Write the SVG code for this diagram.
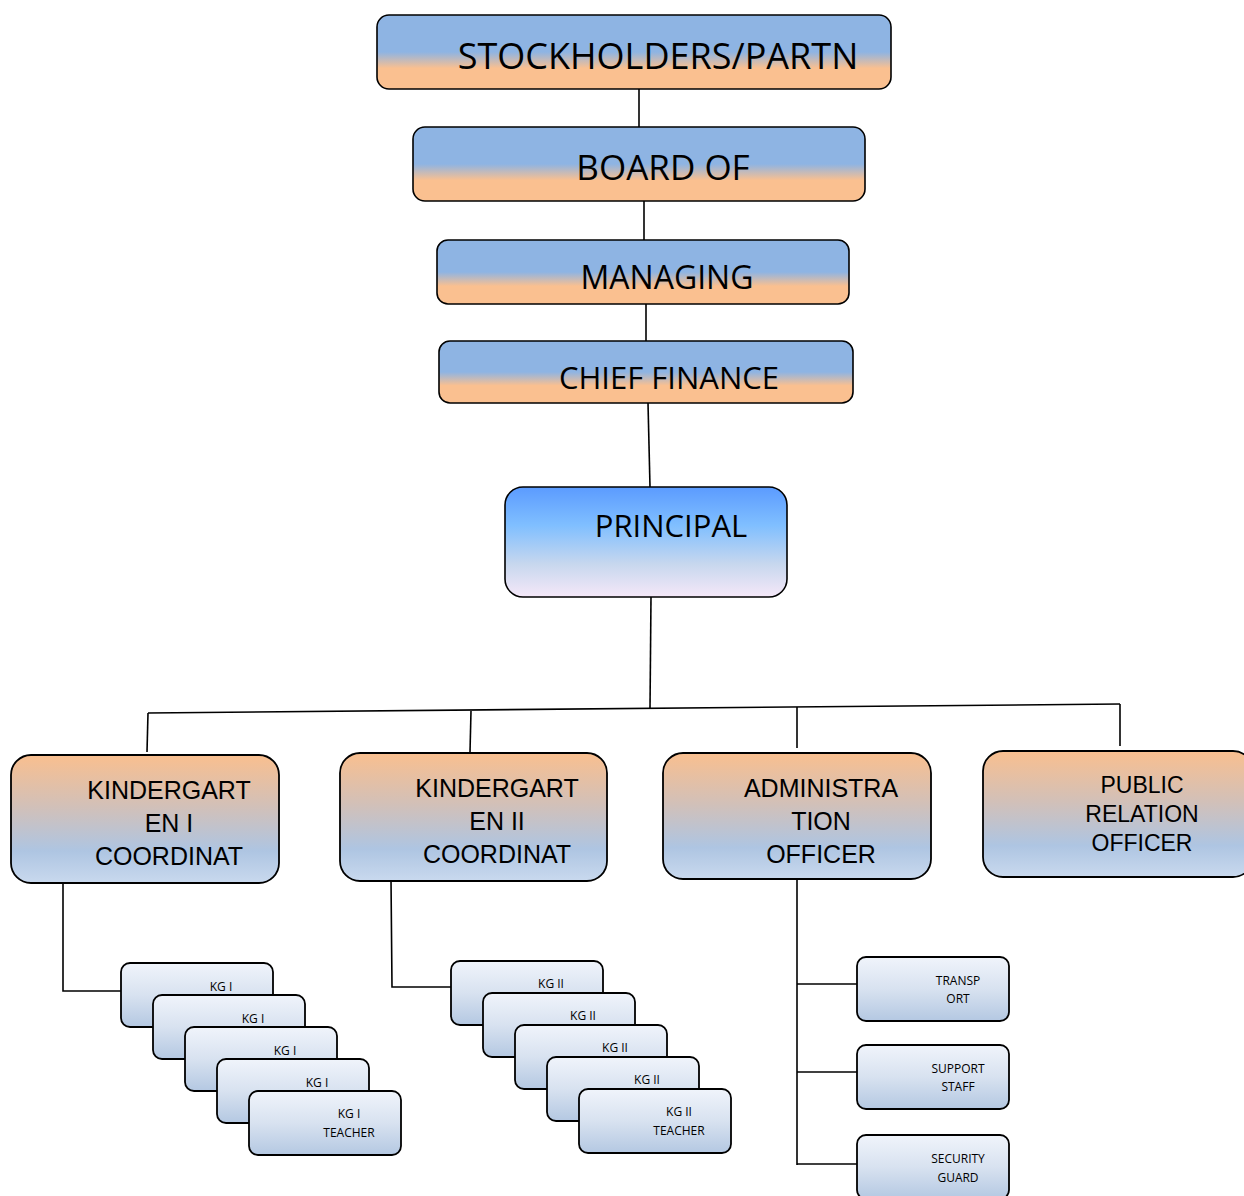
<svg xmlns="http://www.w3.org/2000/svg" width="1244" height="1196" viewBox="0 0 1244 1196">
<style>
.top{stroke:#000;stroke-width:1.6;fill:url(#gTop)}
.mid{stroke:#000;stroke-width:1.8;fill:url(#gMid)}
.sm{stroke:#000;stroke-width:1.8;fill:url(#gSm)}
.pr{stroke:#000;stroke-width:1.6;fill:url(#gPr)}
.t1{font-family:"Open Sans","Noto Sans",sans-serif;fill:#000;text-anchor:middle}
.t2{font-family:"Liberation Sans",sans-serif;fill:#000;text-anchor:middle;font-size:25px}
.t2s{font-family:"Liberation Sans",sans-serif;fill:#000;text-anchor:middle;font-size:23px}
.t3{font-family:"Open Sans","Noto Sans",sans-serif;fill:#000;text-anchor:middle;font-size:12px}
.c{stroke:#000;stroke-width:1.6;fill:none}
</style>
<defs>
<linearGradient id="gTop" x1="0" y1="0" x2="0" y2="1">
<stop offset="0" stop-color="#8eb4e3"/><stop offset="0.5" stop-color="#8eb4e3"/><stop offset="0.72" stop-color="#fac090"/><stop offset="1" stop-color="#fac090"/>
</linearGradient>
<linearGradient id="gPr" x1="0" y1="0" x2="0" y2="1">
<stop offset="0" stop-color="#5b9bff"/><stop offset="0.35" stop-color="#80bfff"/><stop offset="0.7" stop-color="#c7d7ee"/><stop offset="1" stop-color="#f5e8f8"/>
</linearGradient>
<linearGradient id="gMid" x1="0" y1="0" x2="0" y2="1">
<stop offset="0" stop-color="#f9bf8f"/><stop offset="0.4" stop-color="#d2c0b8"/><stop offset="0.75" stop-color="#aec5e2"/><stop offset="1" stop-color="#c9d9ee"/>
</linearGradient>
<linearGradient id="gSm" x1="0" y1="0" x2="0" y2="1">
<stop offset="0" stop-color="#f0f4fb"/><stop offset="0.5" stop-color="#d8e2f0"/><stop offset="1" stop-color="#b4c8e2"/>
</linearGradient>
</defs>
<g id="connectors">
<line class="c" x1="639" y1="89" x2="639" y2="127"/>
<line class="c" x1="644" y1="201" x2="644" y2="240"/>
<line class="c" x1="646" y1="304" x2="646" y2="341"/>
<line class="c" x1="648" y1="403" x2="650" y2="487"/>
<line class="c" x1="651" y1="597" x2="650" y2="708"/>
<line class="c" x1="148" y1="713" x2="1120" y2="704"/>
<line class="c" x1="148" y1="713" x2="147" y2="752"/>
<line class="c" x1="471" y1="711" x2="470" y2="752"/>
<line class="c" x1="797" y1="707" x2="797" y2="748"/>
<line class="c" x1="1120" y1="704" x2="1120" y2="746"/>
<polyline class="c" points="63,883 63,991 121,991"/>
<polyline class="c" points="391,879 392,987 451,987"/>
<line class="c" x1="797" y1="879" x2="797" y2="1165"/>
<line class="c" x1="797" y1="984" x2="857" y2="984"/>
<line class="c" x1="797" y1="1072" x2="857" y2="1072"/>
<line class="c" x1="797" y1="1164" x2="857" y2="1164"/>
</g>
<g id="stockholders"><rect class="top" x="377" y="15" width="514" height="74" rx="12"/><text class="t1" x="658" y="69" font-size="36">STOCKHOLDERS/PARTN</text></g>
<g id="board"><rect class="top" x="413" y="127" width="452" height="74" rx="12"/><text class="t1" x="663" y="180" font-size="35">BOARD OF</text></g>
<g id="managing"><rect class="top" x="437" y="240" width="412" height="64" rx="11"/><text class="t1" x="667" y="289" font-size="32">MANAGING</text></g>
<g id="cfo"><rect class="top" x="439" y="341" width="414" height="62" rx="11"/><text class="t1" x="669" y="389" font-size="31">CHIEF FINANCE</text></g>
<g id="principal"><rect class="pr" x="505" y="487" width="282" height="110" rx="18"/><text class="t1" x="671" y="537" font-size="31">PRINCIPAL</text></g>
<g id="kg1coord"><rect class="mid" x="11" y="755" width="268" height="128" rx="20"/><text class="t2" x="169" y="799">KINDERGART</text><text class="t2" x="169" y="832">EN I</text><text class="t2" x="169" y="865">COORDINAT</text></g>
<g id="kg2coord"><rect class="mid" x="340" y="753" width="267" height="128" rx="20"/><text class="t2" x="497" y="797">KINDERGART</text><text class="t2" x="497" y="830">EN II</text><text class="t2" x="497" y="863">COORDINAT</text></g>
<g id="admin"><rect class="mid" x="663" y="753" width="268" height="126" rx="20"/><text class="t2" x="821" y="797">ADMINISTRA</text><text class="t2" x="821" y="830">TION</text><text class="t2" x="821" y="863">OFFICER</text></g>
<g id="pro"><rect class="mid" x="983" y="751" width="270" height="126" rx="20"/><text class="t2s" x="1142" y="793">PUBLIC</text><text class="t2s" x="1142" y="822">RELATION</text><text class="t2s" x="1142" y="851">OFFICER</text></g>
<g id="kg1a"><rect class="sm" x="121" y="963" width="152" height="64" rx="9"/><text class="t3" x="221" y="991">KG I</text></g>
<g id="kg1b"><rect class="sm" x="153" y="995" width="152" height="64" rx="9"/><text class="t3" x="253" y="1023">KG I</text></g>
<g id="kg1c"><rect class="sm" x="185" y="1027" width="152" height="64" rx="9"/><text class="t3" x="285" y="1055">KG I</text></g>
<g id="kg1d"><rect class="sm" x="217" y="1059" width="152" height="64" rx="9"/><text class="t3" x="317" y="1087">KG I</text></g>
<g id="kg1e"><rect class="sm" x="249" y="1091" width="152" height="64" rx="9"/><text class="t3" x="349" y="1118">KG I</text><text class="t3" x="349" y="1137">TEACHER</text></g>
<g id="kg2a"><rect class="sm" x="451" y="961" width="152" height="64" rx="9"/><text class="t3" x="551" y="988">KG II</text></g>
<g id="kg2b"><rect class="sm" x="483" y="993" width="152" height="64" rx="9"/><text class="t3" x="583" y="1020">KG II</text></g>
<g id="kg2c"><rect class="sm" x="515" y="1025" width="152" height="64" rx="9"/><text class="t3" x="615" y="1052">KG II</text></g>
<g id="kg2d"><rect class="sm" x="547" y="1057" width="152" height="64" rx="9"/><text class="t3" x="647" y="1084">KG II</text></g>
<g id="kg2e"><rect class="sm" x="579" y="1089" width="152" height="64" rx="9"/><text class="t3" x="679" y="1116">KG II</text><text class="t3" x="679" y="1135">TEACHER</text></g>
<g id="transport"><rect class="sm" x="857" y="957" width="152" height="64" rx="9"/><text class="t3" x="958" y="985">TRANSP</text><text class="t3" x="958" y="1003">ORT</text></g>
<g id="support"><rect class="sm" x="857" y="1045" width="152" height="64" rx="9"/><text class="t3" x="958" y="1073">SUPPORT</text><text class="t3" x="958" y="1091">STAFF</text></g>
<g id="security"><rect class="sm" x="857" y="1135" width="152" height="64" rx="9"/><text class="t3" x="958" y="1163">SECURITY</text><text class="t3" x="958" y="1182">GUARD</text></g>
</svg>
